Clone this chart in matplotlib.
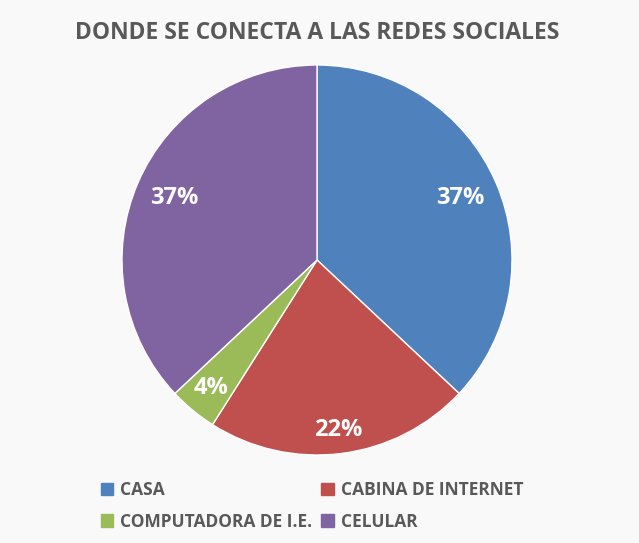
import matplotlib
matplotlib.use("Agg")
import matplotlib.pyplot as plt
import numpy as np

categories = ["CASA", "CABINA DE INTERNET", "COMPUTADORA DE I.E.", "CELULAR"]
values = [37, 22, 4, 37]
labels = ["37%", "22%", "4%", "37%"]
colors = ["#4F81BD", "#C0504D", "#9BBB59", "#8064A2"]
label_dist = [0.80, 0.88, 0.85, 0.80]

W, H = 639, 543
fig = plt.figure(figsize=(W / 100, H / 100), dpi=100)
fig.patch.set_facecolor("#f9f9f9")

cx, cy, r = 317, 260, 195
ax = fig.add_axes([(cx - r) / W, (H - cy - r) / H, 2 * r / W, 2 * r / H])
wedges, _ = ax.pie(values, colors=colors, startangle=90, counterclock=False,
                   wedgeprops=dict(edgecolor="white", linewidth=1.0))
ax.set_xlim(-1, 1)
ax.set_ylim(-1, 1)
ax.set_aspect("equal")
ax.axis("off")

for w, lab, d in zip(wedges, labels, label_dist):
    ang = np.deg2rad((w.theta1 + w.theta2) / 2)
    ax.text(d * np.cos(ang), d * np.sin(ang), lab, ha="center", va="center",
            color="white", fontsize=17, fontweight="bold", family="Open Sans")

fig.text(cx / W, 1 - 33 / H, "DONDE SE CONECTA A LAS REDES SOCIALES",
         ha="center", va="center", fontsize=16.5, fontweight="bold",
         color="#595959", family="Open Sans")

# row-wise legend order: CASA | CABINA ; COMPUTADORA | CELULAR
order = [0, 2, 1, 3]
handles = [plt.Rectangle((0, 0), 1, 1, color=colors[i]) for i in order]
leg = fig.legend(handles, [categories[i] for i in order], loc="center", ncol=2,
                 bbox_to_anchor=(0.488, 1 - 506 / H), frameon=False,
                 prop=dict(family="Open Sans", weight="bold", size=12.5),
                 handlelength=0.7, handleheight=0.7, handletextpad=0.4,
                 columnspacing=0.55, labelspacing=0.75, labelcolor="#595959")

fig.savefig("out.png", dpi=100, facecolor=fig.get_facecolor())
